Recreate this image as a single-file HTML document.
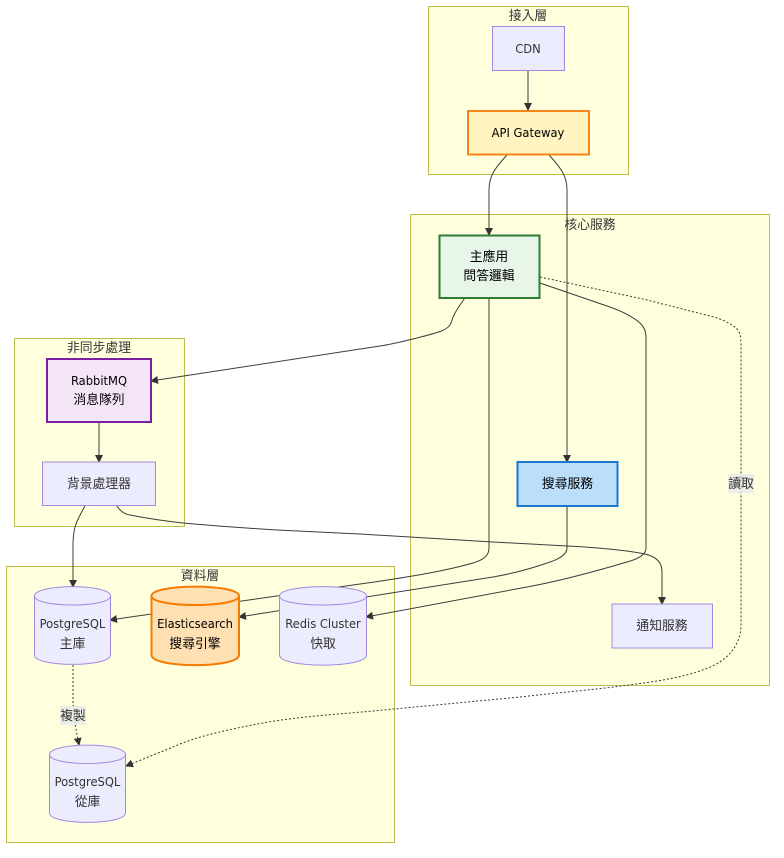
<!DOCTYPE html>
<html><head><meta charset="utf-8"><style>
html,body{margin:0;padding:0;background:#fff}
svg{display:block}
text{font-family:"DejaVu Sans Condensed","DejaVu Sans","WenQuanYi Zen Hei","Noto Sans CJK TC",sans-serif;font-size:12.8px;text-anchor:middle;fill:#333}
.k{fill:#000}
.c{fill:#ffffde;stroke:#bcbc4a;stroke-width:1}
.n{fill:#ececff;stroke:#a488e0;stroke-width:1}
.e{fill:none;stroke:#3c3c3c;stroke-width:1}
.d{stroke-dasharray:2 2}
</style></head><body>
<svg width="784" height="858" viewBox="0 0 784 858" xmlns="http://www.w3.org/2000/svg">
<defs><marker id="a" markerUnits="userSpaceOnUse" markerWidth="8" markerHeight="8" refX="7" refY="4" orient="auto"><path d="M0 0L8 4L0 8z" fill="#333"/></marker></defs>
<rect class="c" x="428.5" y="6.5" width="200" height="168"/>
<rect class="c" x="410.5" y="214.5" width="359" height="471"/>
<rect class="c" x="14.5" y="338.5" width="170" height="188"/>
<rect class="c" x="6.5" y="566.5" width="388" height="276"/>
<text x="528" y="20">接入層</text><text x="590" y="229">核心服務</text><text x="99" y="352">非同步處理</text><text x="200" y="580">資料層</text>
<path class="e" marker-end="url(#a)" d="M528 70.5V110"/>
<path class="e" marker-end="url(#a)" d="M507 155C495 168 489 176 489 190V235"/>
<path class="e" marker-end="url(#a)" d="M549 155C561 168 567 176 567 190V462"/>
<path class="e" marker-end="url(#a)" d="M465 298C456 310 453 316 451 323C448 331 436 333 413 339C400 342 390 344.500 380 346L151 381"/>
<path class="e" marker-end="url(#a)" d="M489 298V548C489 556 483 560 473 563C445 571 410 577 360 584L110 620"/>
<path class="e" marker-end="url(#a)" d="M540 283L607 306C622 311 633 317 640 323C644 327 646 331 646 338V548C646 555 638 559 627 562C600 570 560 581 527 587L366 617"/>
<path class="e d" marker-end="url(#a)" d="M540 277L643 299L710 316C722 319 730 323 736 328C740 332 741 336 741 345V625C741 645 728 660 708 668C680 679 650 682 622 686C590 690 555 693 520 697L394 709C345 714 300 716 263 723C225 730 195 737 173 747L126 766"/>
<path class="e" marker-end="url(#a)" d="M567 506V548C567 555 557 560 547 563C530 569 510 574 493 577L239 617"/>
<path class="e" marker-end="url(#a)" d="M85 506C76 522 73 528 73 545V587"/>
<path class="e" marker-end="url(#a)" d="M117 506C120 511 124 514 130 515C145 518 165 521 183 523C215 526 245 528 277 530L360 534L493 542L567 546C590 547 610 549 627 551C648 554 662 556 662 572V604"/>
<path class="e" marker-end="url(#a)" d="M99 422V462"/>
<path class="e d" marker-end="url(#a)" d="M73 665V700C73 715 76 730 79 745"/>
<rect class="n" x="492.5" y="26.5" width="72" height="44"/><text x="528" y="53">CDN</text>
<rect x="468" y="111" width="121" height="43.5" fill="#fff3c0" stroke="#f9851a" stroke-width="2"/><text class="k" x="528" y="137">API Gateway</text>
<rect x="439.500" y="235.500" width="100" height="62.500" fill="#e8f5e9" stroke="#2e7d32" stroke-width="2"/><text class="k" x="489" y="261">主應用</text><text class="k" x="489" y="280">問答邏輯</text>
<rect x="517.500" y="462" width="100" height="44" fill="#bbdefb" stroke="#1976d2" stroke-width="2"/><text class="k" x="567.500" y="488">搜尋服務</text>
<rect class="n" x="612" y="604" width="100.500" height="44"/><text x="662" y="630">通知服務</text>
<rect x="47" y="359" width="104" height="63" fill="#f3e5f5" stroke="#7b1fa2" stroke-width="2"/><text class="k" x="99" y="385">RabbitMQ</text><text class="k" x="99" y="404">消息隊列</text>
<rect class="n" x="42.500" y="462" width="113" height="43.500"/><text x="99" y="488">背景處理器</text>
<path class="n" d="M34.500 596C34.500 583.500 110.500 583.500 110.500 596V655C110.500 667.500 34.500 667.500 34.500 655Z"/><path class="n" style="fill:none" d="M34.500 596C34.500 608 110.500 608 110.500 596"/><text x="72.500" y="628">PostgreSQL</text><text x="72.500" y="648">主庫</text>
<path d="M151.500 596C151.500 583.500 239 583.500 239 596V655C239 668.500 151.500 668.500 151.500 655Z" fill="#ffe0b2" stroke="#f57c00" stroke-width="2"/><path d="M151.500 596C151.500 608 239 608 239 596" fill="none" stroke="#f57c00" stroke-width="2"/><text class="k" x="195" y="628">Elasticsearch</text><text class="k" x="195" y="648">搜尋引擎</text>
<path class="n" d="M279.500 596C279.500 583.500 366.500 583.500 366.500 596V655C366.500 668.500 279.500 668.500 279.500 655Z"/><path class="n" style="fill:none" d="M279.500 596C279.500 608 366.500 608 366.500 596"/><text x="323" y="628">Redis Cluster</text><text x="323" y="648">快取</text>
<path class="n" d="M49.500 754.500C49.500 742 125.500 742 125.500 754.500V813C125.500 825.500 49.500 825.500 49.500 813Z"/><path class="n" style="fill:none" d="M49.500 754.500C49.500 766.500 125.500 766.500 125.500 754.500"/><text x="87.500" y="786">PostgreSQL</text><text x="87.500" y="806">從庫</text>
<rect x="60" y="706" width="26" height="19" fill="#e8e8e8" fill-opacity=".8"/><text x="73" y="720">複製</text>
<rect x="728" y="474" width="26" height="19" fill="#e8e8e8" fill-opacity=".8"/><text x="741" y="488">讀取</text>
</svg>
</body></html>
